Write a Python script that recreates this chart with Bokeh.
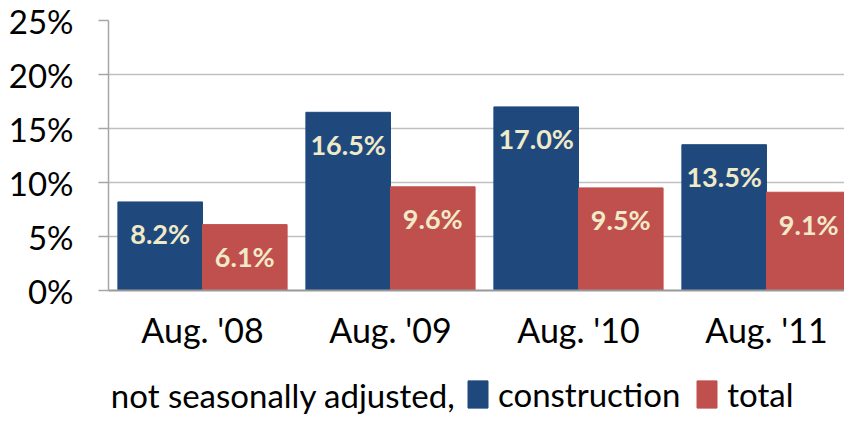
from bokeh.plotting import figure
from bokeh.layouts import column
from bokeh.models import (ColumnDataSource, Range1d, FixedTicker,
                          PrintfTickFormatter, Legend, LegendItem, Label)
from bokeh.transform import dodge
from bokeh.core.properties import value
from bokeh.embed import file_html
from bokeh.resources import INLINE

# ---- data ----
months = ["Aug. '08", "Aug. '09", "Aug. '10", "Aug. '11"]
construction = [8.2, 16.5, 17.0, 13.5]
total = [6.1, 9.6, 9.5, 9.1]
y_ticks = [0, 5, 10, 15, 20, 25]
legend_prefix = "not seasonally adjusted,"
series_names = ["construction", "total"]

BLUE = "#1F497D"
RED = "#C0504D"
CREAM = "#F0EAC8"
FONT = "Lato"
W = 844

pos = list(range(len(months)))
src = ColumnDataSource(dict(
    pos=pos,
    construction=construction,
    total=total,
    c_lab=[f"{v:.1f}%" for v in construction],
    t_lab=[f"{v:.1f}%" for v in total],
))

p = figure(width=W, height=372, output_backend="svg", toolbar_location=None,
           x_range=Range1d(-0.5, 3.415), y_range=Range1d(0, 25),
           min_border_left=108, min_border_top=20, min_border_right=0,
           min_border_bottom=82)

off = 0.225
w = 0.45
rc = p.vbar(x=dodge("pos", -off), top="construction", width=w,
            source=src, fill_color=BLUE, line_color=BLUE)
rt = p.vbar(x=dodge("pos", off), top="total", width=w,
            source=src, fill_color=RED, line_color=RED)

for xcol, ycol, lab in ((-off, "construction", "c_lab"), (off, "total", "t_lab")):
    p.text(x=dodge("pos", xcol), y=ycol, text=lab, source=src, y_offset=32,
           text_align="center", text_baseline="middle", text_color=CREAM,
           text_font=value(FONT), text_font_style="bold", text_font_size="27px")

# axes
p.yaxis.ticker = FixedTicker(ticks=y_ticks)
p.yaxis.formatter = PrintfTickFormatter(format="%d%%")
p.yaxis.major_label_text_font = FONT
p.yaxis.major_label_text_font_size = "33px"
p.yaxis.major_label_text_color = "black"
p.yaxis.major_label_standoff = 25
p.yaxis.axis_line_color = "#A6A6A6"
p.yaxis.axis_line_width = 1.5
p.yaxis.major_tick_line_color = "#A6A6A6"
p.yaxis.major_tick_line_width = 1.5
p.yaxis.major_tick_out = 10
p.yaxis.major_tick_in = 0
p.yaxis.minor_tick_line_color = None

p.xaxis.ticker = FixedTicker(ticks=pos)
p.xaxis.major_label_overrides = {i: m for i, m in zip(pos, months)}
p.xaxis.major_label_text_font = FONT
p.xaxis.major_label_text_font_size = "34px"
p.xaxis.major_label_text_color = "black"
p.xaxis.major_label_standoff = 12
p.xaxis.axis_line_color = "#999999"
p.xaxis.axis_line_width = 2
p.xaxis.major_tick_line_color = None
p.xaxis.minor_tick_line_color = None

p.xgrid.grid_line_color = None
p.ygrid.grid_line_color = "#C0C0C0"
p.ygrid.grid_line_width = 1.5
p.ygrid.ticker = FixedTicker(ticks=y_ticks)
p.outline_line_color = None

# ---- legend strip ----
lg = figure(width=W, height=42, output_backend="svg", toolbar_location=None,
            x_range=Range1d(0, 1), y_range=Range1d(0, 1),
            min_border=0)
lg.axis.visible = False
lg.grid.grid_line_color = None
lg.outline_line_color = None
# swatch renderers (their bars lie outside the strip's range, only the legend shows)
pc = lg.vbar(x=[5], top=[1], width=0.1, fill_color=BLUE, line_color=BLUE)
pt = lg.vbar(x=[5], top=[1], width=0.1, fill_color=RED, line_color=RED)

X0 = 108  # strip's frame is aligned with the chart's frame
legend = Legend(items=[
    LegendItem(label=series_names[0], renderers=[pc]),
    LegendItem(label=series_names[1], renderers=[pt]),
], orientation="horizontal", location=(465 - X0, 0),
    label_text_font=FONT, label_text_font_size="33px", label_text_color="black",
    glyph_width=25, glyph_height=34, label_standoff=8, spacing=14,
    padding=0, margin=0, border_line_color=None, background_fill_alpha=0)
lg.add_layout(legend, "center")
lg.add_layout(Label(x=455 - X0, y=20, x_units="screen", y_units="screen",
                    text=legend_prefix, text_align="right",
                    text_baseline="middle", text_font=FONT,
                    text_font_size="33px", text_color="black"))

open("out.html", "w").write(file_html(column(p, lg, spacing=0), INLINE))
